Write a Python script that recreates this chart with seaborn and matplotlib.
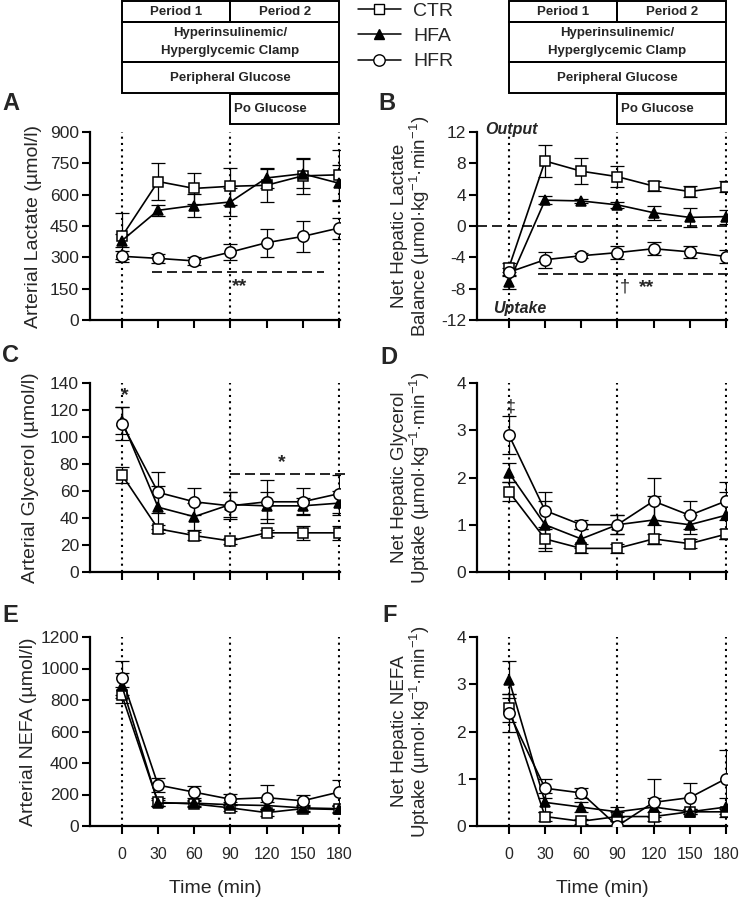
import pandas as pd
import matplotlib.pyplot as plt
import seaborn as sns
from matplotlib.patches import Rectangle
from matplotlib.lines import Line2D
from matplotlib.transforms import blended_transform_factory

sns.set_style("ticks")
plt.rcParams["font.family"] = ["Liberation Sans", "DejaVu Sans"]
plt.rcParams["mathtext.fontset"] = "custom"
plt.rcParams["mathtext.rm"] = "Liberation Sans"
plt.rcParams["mathtext.it"] = "Liberation Sans:italic"
plt.rcParams["axes.unicode_minus"] = False

W, H = 739, 898

time = [0, 30, 60, 90, 120, 150, 180]
groups = ["CTR", "HFA", "HFR"]

# A - arterial lactate
lac_ctr = [400, 663, 630, 640, 645, 690, 695]
lac_ctr_se = [110, 88, 75, 90, 78, 85, 120]
lac_hfa = [380, 525, 548, 565, 680, 700, 655]
lac_hfa_se = [30, 25, 55, 65, 50, 70, 85]
lac_hfr = [305, 295, 283, 325, 370, 400, 440]
lac_hfr_se = [25, 20, 20, 40, 67, 75, 50]

# B - net hepatic lactate balance
nhl_ctr = [-5.3, 8.3, 7.0, 6.3, 5.1, 4.4, 5.0]
nhl_ctr_se = [0.6, 2.0, 1.7, 1.3, 0.6, 0.7, 0.7]
nhl_hfa = [-7.2, 3.3, 3.2, 2.7, 1.7, 1.1, 1.2]
nhl_hfa_se = [0.9, 0.5, 0.3, 0.4, 0.9, 1.2, 0.9]
nhl_hfr = [-5.9, -4.3, -3.8, -3.4, -2.9, -3.3, -3.9]
nhl_hfr_se = [0.5, 1.0, 0.3, 0.8, 0.8, 0.8, 0.8]

# C - arterial glycerol
gly_ctr = [72, 32, 27, 23, 29, 29, 29]
gly_ctr_se = [6, 3, 3, 2, 2, 5, 5]
gly_hfa = [112, 48, 41, 50, 49, 49, 51]
gly_hfa_se = [10, 16, 10, 9, 10, 6, 9]
gly_hfr = [110, 59, 52, 49, 52, 52, 58]
gly_hfr_se = [12, 15, 10, 10, 16, 10, 14]

# D - net hepatic glycerol uptake
nhg_ctr = [1.7, 0.7, 0.5, 0.5, 0.7, 0.6, 0.8]
nhg_ctr_se = [0.2, 0.25, 0.1, 0.1, 0.1, 0.1, 0.1]
nhg_hfa = [2.1, 1.0, 0.7, 1.0, 1.1, 1.0, 1.2]
nhg_hfa_se = [0.2, 0.5, 0.2, 0.2, 0.5, 0.2, 0.5]
nhg_hfr = [2.9, 1.3, 1.0, 1.0, 1.5, 1.2, 1.5]
nhg_hfr_se = [0.4, 0.4, 0.1, 0.2, 0.5, 0.3, 0.4]

# E - arterial NEFA
nefa_ctr = [830, 150, 140, 115, 85, 110, 105]
nefa_ctr_se = [50, 25, 20, 20, 20, 20, 20]
nefa_hfa = [890, 145, 145, 135, 130, 115, 110]
nefa_hfa_se = [80, 20, 20, 20, 20, 20, 20]
nefa_hfr = [940, 260, 215, 170, 180, 160, 215]
nefa_hfr_se = [110, 45, 40, 35, 80, 40, 80]

# F - net hepatic NEFA uptake
nhn_ctr = [2.5, 0.2, 0.1, 0.2, 0.2, 0.3, 0.3]
nhn_ctr_se = [0.3, 0.1, 0.05, 0.1, 0.1, 0.05, 0.05]
nhn_hfa = [3.1, 0.5, 0.4, 0.3, 0.4, 0.3, 0.4]
nhn_hfa_se = [0.4, 0.2, 0.1, 0.1, 0.2, 0.05, 0.2]
nhn_hfr = [2.4, 0.8, 0.7, 0.0, 0.5, 0.6, 1.0]
nhn_hfr_se = [0.4, 0.2, 0.1, 0.1, 0.5, 0.3, 0.6]

unit2 = "(µmol·kg$^{-1}$·min$^{-1}$)"
panels = [
    ("A", [lac_ctr, lac_hfa, lac_hfr], [lac_ctr_se, lac_hfa_se, lac_hfr_se],
     "Arterial Lactate (µmol/l)", (0, 900), range(0, 901, 150)),
    ("B", [nhl_ctr, nhl_hfa, nhl_hfr], [nhl_ctr_se, nhl_hfa_se, nhl_hfr_se],
     "Net Hepatic Lactate\nBalance " + unit2, (-12, 12), range(-12, 13, 4)),
    ("C", [gly_ctr, gly_hfa, gly_hfr], [gly_ctr_se, gly_hfa_se, gly_hfr_se],
     "Arterial Glycerol (µmol/l)", (0, 140), range(0, 141, 20)),
    ("D", [nhg_ctr, nhg_hfa, nhg_hfr], [nhg_ctr_se, nhg_hfa_se, nhg_hfr_se],
     "Net Hepatic Glycerol\nUptake " + unit2, (0, 4), range(0, 5)),
    ("E", [nefa_ctr, nefa_hfa, nefa_hfr], [nefa_ctr_se, nefa_hfa_se, nefa_hfr_se],
     "Arterial NEFA (µmol/l)", (0, 1200), range(0, 1201, 200)),
    ("F", [nhn_ctr, nhn_hfa, nhn_hfr], [nhn_ctr_se, nhn_hfa_se, nhn_hfr_se],
     "Net Hepatic NEFA\nUptake " + unit2, (0, 4), range(0, 5)),
]

styles = {
    "CTR": dict(marker="s", mfc="white", ms=6.8, zorder=3),
    "HFA": dict(marker="^", mfc="black", ms=7.5, zorder=4),
    "HFR": dict(marker="o", mfc="white", ms=8.2, zorder=5),
}

fig = plt.figure(figsize=(W / 100, H / 100), dpi=100)

# axes boxes in pixel coords
cols = [(90, 340), (477, 727)]
rows = [(132, 320), (383, 572), (637, 826)]
letter_pos = {"A": (2, 103), "B": (378, 103), "C": (2, 355), "D": (380, 357),
              "E": (2, 615), "F": (382, 615)}
label_x = {"A": -0.19, "B": -0.18, "C": -0.205, "D": -0.18, "E": -0.21, "F": -0.18}

axes = {}
for i, (letter, means, ses, ylabel, ylim, yticks) in enumerate(panels):
    l, r = cols[i % 2]
    t, b = rows[i // 2]
    ax = fig.add_axes([l / W, 1 - b / H, (r - l) / W, (b - t) / H])
    axes[letter] = ax

    for t0 in [0, 90, 180]:
        ax.axvline(t0, ls=(0, (1, 2)), lw=1.5, color="black", zorder=1)

    for g, m, s in zip(groups, means, ses):
        df = pd.DataFrame({"time": time, "value": m, "se": s})
        ax.errorbar(df["time"], df["value"], yerr=df["se"], fmt="none",
                    ecolor="black", elinewidth=0.9, capsize=5, capthick=0.9,
                    zorder=2)
        sns.lineplot(data=df, x="time", y="value", ax=ax, color="black",
                     lw=1.2, mec="black", mew=1.1, errorbar=None,
                     **styles[g])

    ax.set_xlim(-26.5, 181)
    ax.set_ylim(*ylim)
    ax.set_yticks(list(yticks))
    ax.set_xticks(time)
    two_line = "\n" in ylabel
    ax.set_ylabel(ylabel, fontsize=13.5 if two_line else 14, linespacing=1.0)
    ax.set_xlabel("")
    if letter in ("E", "F"):
        ax.set_xticklabels([str(t0) for t0 in time])
        ax.set_xlabel("Time (min)", fontsize=14, labelpad=13)
    else:
        ax.set_xticklabels([])
    ax.tick_params(axis="both", direction="out", length=6, width=1.5,
                   color="black")
    ax.tick_params(axis="x", pad=9, labelsize=11.5)
    ax.tick_params(axis="y", pad=2, labelsize=12.5)
    for side in ["left", "bottom"]:
        ax.spines[side].set_linewidth(1.6)
        ax.spines[side].set_color("black")
    sns.despine(ax=ax)
    ax.yaxis.set_label_coords(label_x[letter], 0.5)

    lx, ly = letter_pos[letter]
    fig.text(lx / W, 1 - ly / H, letter, fontsize=17, fontweight="bold",
             ha="left", va="center")

# annotations
ax = axes["A"]
ax.plot([25, 168], [228, 228], ls=(0, (6, 3)), color="black", lw=1.2)
ax.text(98, 160, "**", fontsize=14, fontweight="bold", ha="center", va="center")

ax = axes["B"]
ax.axhline(0, ls=(0, (6, 3)), color="black", lw=1.2, zorder=1)
ax.plot([24, 184], [-6.1, -6.1], ls=(0, (6, 3)), color="black", lw=1.2,
        clip_on=False)
ax.text(96, -7.8, "†", fontsize=13, ha="center", va="center")
ax.text(114, -7.8, "**", fontsize=14, fontweight="bold", ha="center", va="center")
ax.text(-20, 12.3, "Output", fontsize=11.5, fontweight="bold", style="italic",
        ha="left", va="center")
ax.text(-13, -10.5, "Uptake", fontsize=11.5, fontweight="bold", style="italic",
        ha="left", va="center")

ax = axes["C"]
ax.text(2.5, 131, "*", fontsize=14, fontweight="bold", ha="center", va="center")
ax.plot([90, 185], [72.4, 72.4], ls=(0, (6, 3)), color="black", lw=1.2,
        clip_on=False)
ax.text(133, 81, "*", fontsize=14, fontweight="bold", ha="center", va="center")

ax = axes["D"]
ax.text(2, 3.5, "‡", fontsize=13, ha="center", va="center")

# protocol boxes above A and B
box_rows = [
    (0, 90, 1.5, 22, "Period 1", 45, "center"),
    (90, 180, 1.5, 22, "Period 2", 135, "center"),
    (0, 180, 22, 62, "Hyperinsulinemic/\nHyperglycemic Clamp", 90, "center"),
    (0, 180, 62, 93, "Peripheral Glucose", 90, "center"),
    (90, 180, 94, 124, "Po Glucose", 93, "left"),
]
for letter in ("A", "B"):
    ax = axes[letter]
    trans = blended_transform_factory(ax.transData, fig.transFigure)
    for x0, x1, top, bot, txt, tx, ha in box_rows:
        y0 = 1 - bot / H
        y1 = 1 - top / H
        fig.add_artist(Rectangle((x0, y0), x1 - x0, y1 - y0, transform=trans,
                                 fill=False, ec="black", lw=1.4, clip_on=False))
        ax.text(tx, (y0 + y1) / 2, txt, transform=trans, fontsize=9.5,
                fontweight="bold", ha=ha, va="center", linespacing=1.6,
                clip_on=False)

# legend
handles = [Line2D([], [], color="black", lw=1.1, marker=styles[g]["marker"],
                  mfc=styles[g]["mfc"], mec="black", ms=styles[g]["ms"])
           for g in groups]
fig.legend(handles, groups, loc="upper left",
           bbox_to_anchor=(358 / W, 1 - 2 / H), frameon=False, fontsize=14,
           handlelength=2.2, handletextpad=0.65, labelspacing=0.4,
           borderpad=0, borderaxespad=0)

fig.savefig("out.png", dpi=100)
